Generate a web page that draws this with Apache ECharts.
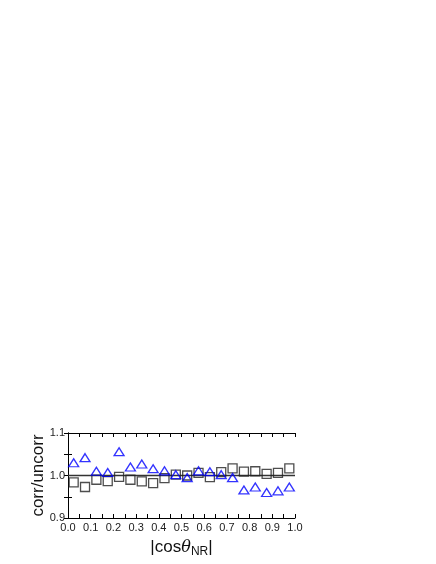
<!DOCTYPE html>
<html>
<head>
<meta charset="utf-8">
<script src="https://cdn.jsdelivr.net/npm/echarts@6/dist/echarts.min.js"></script>
<style>
html, body { margin: 0; padding: 0; background: #fff; }
#chart { width: 436px; height: 564px; }
</style>
</head>
<body>
<div id="chart"></div>
<script>
var dom = document.getElementById("chart");
var myChart = echarts.init(dom);

// bin centres of |cos theta_NR|
var binCenters = [0.025, 0.075, 0.125, 0.175, 0.225, 0.275, 0.325, 0.375, 0.425, 0.475,
                  0.525, 0.575, 0.625, 0.675, 0.725, 0.775, 0.825, 0.875, 0.925, 0.975];
// black squares
var squareVals = [0.984, 0.973, 0.990, 0.987, 0.997, 0.990, 0.986, 0.982, 0.994, 1.002,
                  1.000, 1.006, 0.996, 1.008, 1.017, 1.009, 1.010, 1.004, 1.006, 1.017];
// blue triangles
var triangleVals = [1.030, 1.042, 1.010, 1.007, 1.056, 1.020, 1.027, 1.016, 1.011, 1.002,
                    0.995, 1.011, 1.009, 1.002, 0.995, 0.966, 0.973, 0.960, 0.964, 0.973];
var xTickLabels = ['0.0', '0.1', '0.2', '0.3', '0.4', '0.5', '0.6', '0.7', '0.8', '0.9', '1.0'];
var yTickLabels = ['0.9', '1.0', '1.1'];
var refLine = [[0, 1], [1, 1]];

var sq = binCenters.map(function (x, i) { return [x, squareVals[i]]; });
var tri = binCenters.map(function (x, i) { return [x, triangleVals[i]]; });

var fnt = 'Liberation Sans';

// ticks every 0.05, labels only on the 0.1 steps
function pickLabel(list) {
    return function (v) {
        var s = v.toFixed(2);
        if (s.charAt(3) !== '0') return '';
        var t = v.toFixed(1);
        return list.indexOf(t) >= 0 ? t : '';
    };
}

option = {
    animation: false,
    grid: { left: 68, right: 141, top: 433, bottom: 46, outerBoundsMode: 'none', containLabel: false },
    xAxis: [
        {
            type: 'value', min: 0, max: 1, interval: 0.05,
            axisLine: { lineStyle: { color: '#000', width: 1 } },
            axisTick: { inside: true, length: 4, lineStyle: { color: '#000' } },
            splitLine: { show: false },
            axisLabel: { color: '#222', fontFamily: fnt, fontSize: 11, margin: 4,
                formatter: pickLabel(xTickLabels) },
            name: '|cos{t|θ}{s|NR}|',
            nameLocation: 'middle',
            nameGap: 19,
            nameMoveOverlap: false,
            nameTextStyle: {
                fontFamily: fnt, fontSize: 17, color: '#111',
                rich: {
                    t: { fontFamily: 'DejaVu Serif', fontStyle: 'italic', fontSize: 16, color: '#111' },
                    s: { fontFamily: fnt, fontSize: 12, color: '#111', padding: [9, 0, 0, 0] }
                }
            }
        },
        {
            type: 'value', min: 0, max: 1, interval: 0.05, position: 'top',
            axisLine: { lineStyle: { color: '#000', width: 1 } },
            axisTick: { inside: true, length: 4, lineStyle: { color: '#000' } },
            splitLine: { show: false },
            axisLabel: { show: false }
        }
    ],
    yAxis: [
        {
            type: 'value', min: 0.9, max: 1.1, interval: 0.05,
            axisLine: { show: true, lineStyle: { color: '#000', width: 1 } },
            axisTick: { inside: true, length: 4, lineStyle: { color: '#000' } },
            splitLine: { show: false },
            axisLabel: { color: '#222', fontFamily: fnt, fontSize: 11, margin: 3,
                formatter: pickLabel(yTickLabels) },
            name: 'corr/uncorr',
            nameLocation: 'middle',
            nameGap: 21,
            nameMoveOverlap: false,
            nameTextStyle: { fontFamily: fnt, fontSize: 17, color: '#111' }
        },
        {
            type: 'value', min: 0.9, max: 1.1, interval: 0.05, position: 'right',
            axisLine: { show: true, lineStyle: { color: '#000', width: 1 } },
            axisTick: { inside: true, length: 4, lineStyle: { color: '#000' } },
            splitLine: { show: false },
            axisLabel: { show: false }
        }
    ],
    series: [
        {
            type: 'line', data: refLine, symbol: 'none',
            lineStyle: { color: '#333', width: 1.5 }, z: 1
        },
        {
            name: 'squares', type: 'scatter', data: sq,
            symbol: 'rect', symbolSize: 9,
            itemStyle: { color: 'rgba(0,0,0,0)', borderColor: '#222', borderWidth: 1.3 }, z: 2
        },
        {
            name: 'triangles', type: 'scatter', data: tri,
            symbol: 'triangle', symbolSize: [10, 8],
            itemStyle: { color: 'rgba(0,0,0,0)', borderColor: '#0000ff', borderWidth: 1.3 }, z: 3
        }
    ]
};

if (option && typeof option === "object") {
    myChart.setOption(option, true);
}
</script>
</body>
</html>
